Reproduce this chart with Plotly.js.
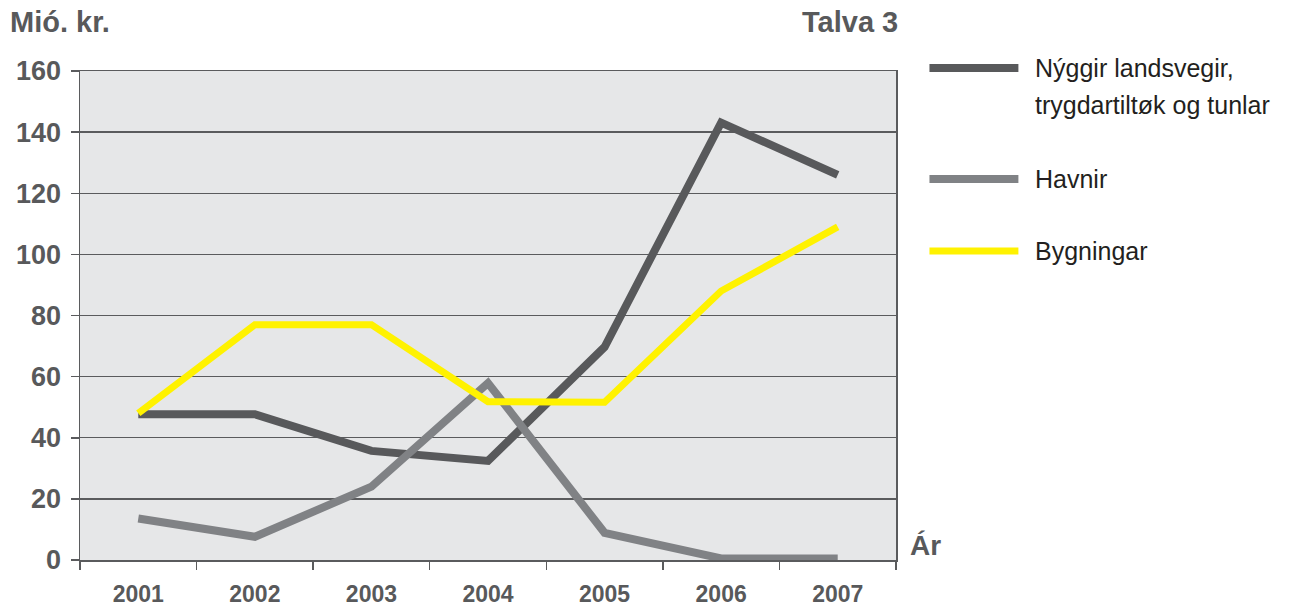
<!DOCTYPE html>
<html>
<head>
<meta charset="utf-8">
<script src="https://cdn.plot.ly/plotly-3.0.1.min.js"></script>
<style>html,body{margin:0;padding:0;background:#fff;}#chart{width:1300px;height:607px;}</style>
</head>
<body>
<div id="chart"></div>
<script>
const years = ["2001", "2002", "2003", "2004", "2005", "2006", "2007"];
const seriesNames = ["Nýggir landsvegir,", "Havnir", "Bygningar"];
const nameSecondLine = "trygdartiltøk og tunlar";
const vegir = [47.7, 47.7, 35.7, 32.4, 69.7, 143.1, 126];
const havnir = [13.6, 7.6, 24, 57.9, 8.9, 0.5, 0.5];
const bygningar = [48, 77, 77, 51.8, 51.6, 88, 109];
const yTicks = [0, 20, 40, 60, 80, 100, 120, 140, 160];
const yUnit = "Mió. kr.";
const chartNo = "Talva 3";
const xUnit = "Ár";

const colors = ["#58595b", "#808285", "#fff200"];
const widths = [8, 8, 7];
const values = [vegir, havnir, bygningar];

const traces = values.map((v, i) => ({
  type: "scatter", mode: "lines", x: years, y: v,
  name: i === 0 ? seriesNames[0] + " " + nameSecondLine : seriesNames[i],
  line: {color: colors[i], width: widths[i]},
  showlegend: false, hoverinfo: "skip"
}));

const axisColor = "#5a5b5d";
const textColor = "#58595b";
const font = "'Liberation Sans', Arial, Helvetica, sans-serif";

// legend drawn manually (paper coords)
const legY = [1.006, 0.779, 0.632];
const shapes = legY.map((y, i) => ({
  type: "line", xref: "paper", yref: "paper",
  x0: 1.041, x1: 1.150, y0: y, y1: y,
  line: {color: colors[i], width: widths[i]}
}));

const legFont = {family: font, size: 25, color: "#231f20"};
const annotations = [
  {text: yUnit, xref: "paper", yref: "paper", x: -0.088, y: 1.100, xanchor: "left", yanchor: "middle",
   showarrow: false, font: {family: font, size: 29, color: textColor, weight: "bold"}},
  {text: chartNo, xref: "paper", yref: "paper", x: 1.0049, y: 1.100, xanchor: "right", yanchor: "middle",
   showarrow: false, font: {family: font, size: 29, color: textColor, weight: "bold"}},
  {text: xUnit, xref: "paper", yref: "paper", x: 1.015, y: 0.030, xanchor: "left", yanchor: "middle",
   showarrow: false, font: {family: font, size: 28, color: textColor, weight: "bold"}},
  {text: seriesNames[0], xref: "paper", yref: "paper", x: 1.168, y: legY[0], xanchor: "left", yanchor: "middle",
   showarrow: false, font: legFont},
  {text: nameSecondLine, xref: "paper", yref: "paper", x: 1.168, y: 0.9305, xanchor: "left", yanchor: "middle",
   showarrow: false, font: legFont},
  {text: seriesNames[1], xref: "paper", yref: "paper", x: 1.168, y: legY[1], xanchor: "left", yanchor: "middle",
   showarrow: false, font: legFont},
  {text: seriesNames[2], xref: "paper", yref: "paper", x: 1.168, y: legY[2], xanchor: "left", yanchor: "middle",
   showarrow: false, font: legFont}
];

const layout = {
  width: 1300, height: 607,
  margin: {l: 80, r: 404, t: 71, b: 47, pad: 0},
  paper_bgcolor: "#ffffff",
  plot_bgcolor: "#e6e7e8",
  showlegend: false,
  xaxis: {
    type: "category", range: [-0.5, 6.5],
    showgrid: false, zeroline: false,
    showline: true, linecolor: axisColor, linewidth: 1.5, mirror: true,
    ticks: "outside", ticklen: 8, tickwidth: 1.5, tickcolor: axisColor,
    tickson: "boundaries",
    tickfont: {family: font, size: 23, color: textColor, weight: "bold"},
    ticklabelstandoff: 13
  },
  yaxis: {
    range: [0, 160], tickvals: yTicks,
    showgrid: true, gridcolor: axisColor, gridwidth: 1.3,
    zeroline: false,
    showline: true, linecolor: axisColor, linewidth: 1.5, mirror: true,
    ticks: "outside", ticklen: 8, tickwidth: 1.5, tickcolor: axisColor,
    tickfont: {family: font, size: 27, color: textColor, weight: "bold"},
    ticklabelstandoff: 4
  },
  shapes: shapes,
  annotations: annotations,
  font: {family: font}
};

Plotly.newPlot("chart", traces, layout, {displayModeBar: false, staticPlot: true});
</script>
</body>
</html>
